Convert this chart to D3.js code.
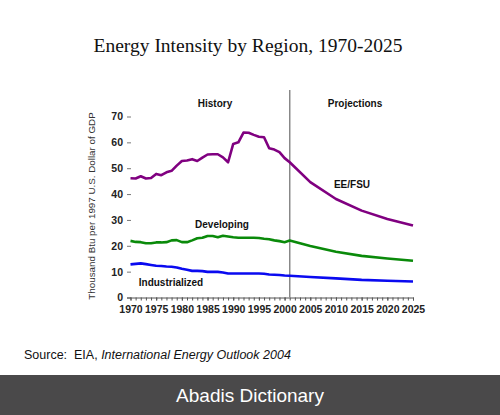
<!DOCTYPE html>
<html><head><meta charset="utf-8">
<script src="https://cdn.jsdelivr.net/npm/d3@7/dist/d3.min.js"></script>
<style>
html,body{margin:0;padding:0;background:#fff;}
svg{display:block;}
</style></head>
<body>
<script>
// ---- data ----
const histYears = [1970,1971,1972,1973,1974,1975,1976,1977,1978,1979,1980,1981,1982,1983,1984,1985,1986,1987,1988,1989,1990,1991,1992,1993,1994,1995,1996,1997,1998,1999,2000,2001];
const eefsuHist = [46.1,46.0,46.9,46.0,46.2,47.8,47.3,48.4,49.0,51.0,52.8,53.0,53.5,52.8,54.1,55.3,55.4,55.4,54.2,52.3,59.4,60.0,63.8,63.7,62.9,62.2,62.0,57.7,57.2,56.2,53.9,52.3];
const developingHist = [21.9,21.5,21.4,21.0,21.0,21.3,21.3,21.4,22.1,22.2,21.4,21.4,22.1,22.9,23.1,23.8,23.8,23.3,23.9,23.6,23.3,23.1,23.1,23.1,23.1,23.0,22.7,22.5,22.1,21.8,21.4,22.0];
const industrializedHist = [12.8,13.0,13.2,12.9,12.6,12.3,12.2,12.0,11.9,11.6,11.1,10.7,10.3,10.3,10.2,9.9,9.9,9.9,9.7,9.3,9.3,9.3,9.3,9.3,9.3,9.3,9.2,8.9,8.8,8.7,8.5,8.4];
const projYears = [2001,2005,2010,2015,2020,2025];
const eefsuProj = [52.3,44.6,38.1,33.6,30.4,27.8];
const developingProj = [22.0,19.9,17.7,16.1,15.1,14.2];
const industrializedProj = [8.4,7.9,7.4,6.8,6.5,6.2];
const yTicks = [0,10,20,30,40,50,60,70];
const xTickLabels = [1970,1975,1980,1985,1990,1995,2000,2005,2010,2015,2020,2025];
const seriesNames = ["EE/FSU","Developing","Industrialized"];
const seriesColors = ["#800080","#0a8a0a","#0a0af0"];

// ---- chart ----
const W = 500, H = 415;
const svg = d3.select("body").append("svg").attr("width", W).attr("height", H);

const x = d3.scaleLinear().domain([1970, 2025]).range([130.5, 413]);
const y = d3.scaleLinear().domain([0, 70]).range([297.5, 116.5]);

// title
svg.append("text").attr("x", 248).attr("y", 52).attr("text-anchor", "middle")
  .attr("font-family", "Liberation Serif, Times New Roman, serif").attr("font-size", 19.5)
  .attr("fill", "#111").text("Energy Intensity by Region, 1970-2025");

// y tick labels & short dashes (no axis line)
const yAxis = d3.axisLeft(y).tickValues(yTicks).tickSize(4).tickPadding(4);
const gy = svg.append("g").attr("transform", "translate(131,0)").call(yAxis);
gy.select(".domain").remove();
gy.selectAll(".tick line").attr("stroke", "#777").attr("stroke-width", 1);
gy.selectAll(".tick text").attr("font-family", "Liberation Sans, Arial, sans-serif")
  .attr("font-size", 10.5).attr("font-weight", "bold").attr("fill", "#222");

// x axis: yearly minor ticks
const years = d3.range(1970, 2026);
const xAxisMinor = d3.axisBottom(x).tickValues(years).tickSize(3).tickFormat("");
const gxm = svg.append("g").attr("transform", "translate(0,297.5)").call(xAxisMinor);
gxm.select(".domain").attr("d", `M127,0.5H${x(2025)}`).attr("stroke", "#555");
gxm.selectAll(".tick line").attr("stroke", "#555");
const xAxis = d3.axisBottom(x).tickValues(xTickLabels).tickSize(3).tickPadding(5).tickFormat(d3.format("d"));
const gx = svg.append("g").attr("transform", "translate(0,297.5)").call(xAxis);
gx.select(".domain").remove();
gx.selectAll(".tick line").attr("stroke", "#555");
gx.selectAll(".tick text").attr("font-family", "Liberation Sans, Arial, sans-serif")
  .attr("font-size", 10.5).attr("font-weight", "bold").attr("fill", "#222");

// y axis title
svg.append("text").attr("transform", "translate(95,206) rotate(-90)")
  .attr("text-anchor", "middle").attr("font-family", "Liberation Sans, Arial, sans-serif")
  .attr("font-size", 9.8).attr("fill", "#333").text("Thousand Btu per 1997 U.S. Dollar of GDP");

// divider at 2001
svg.append("line").attr("x1", x(2001)).attr("x2", x(2001)).attr("y1", 90).attr("y2", 297.5)
  .attr("stroke", "#888").attr("stroke-width", 1.5);

// lines
const line = d3.line().x(d => x(d[0])).y(d => y(d[1]));
const hist = [eefsuHist, developingHist, industrializedHist];
const proj = [eefsuProj, developingProj, industrializedProj];
hist.forEach((vals, i) => {
  const pts = histYears.map((yr, j) => [yr, vals[j]]).concat(projYears.slice(1).map((yr, j) => [yr, proj[i][j + 1]]));
  svg.append("path").datum(pts).attr("d", line).attr("fill", "none")
    .attr("stroke", seriesColors[i]).attr("stroke-width", 2.6).attr("stroke-linejoin", "round");
});

// labels
const lab = (t, cx, cy) => svg.append("text").attr("x", cx).attr("y", cy).attr("text-anchor", "middle")
  .attr("font-family", "Liberation Sans, Arial, sans-serif").attr("font-size", 10)
  .attr("font-weight", "bold").attr("fill", "#111").text(t);
lab("History", 215, 107);
lab("Projections", 355, 107);
lab(seriesNames[0], 352, 188);
lab(seriesNames[1], 222, 228);
lab(seriesNames[2], 171, 286);

// source
const src = svg.append("text").attr("x", 24).attr("y", 359)
  .attr("font-family", "Liberation Sans, Arial, sans-serif").attr("font-size", 12.5).attr("fill", "#111");
src.append("tspan").attr("xml:space", "preserve").text("Source:  EIA, ");
src.append("tspan").attr("font-style", "italic").text("International Energy Outlook 2004");

// footer band
svg.append("rect").attr("x", 0).attr("y", 375).attr("width", W).attr("height", 40).attr("fill", "#4a494a");
svg.append("text").attr("x", 250).attr("y", 402).attr("text-anchor", "middle")
  .attr("font-family", "Liberation Sans, Arial, sans-serif").attr("font-size", 19)
  .attr("fill", "#fff").text("Abadis Dictionary");
</script>
</body></html>
